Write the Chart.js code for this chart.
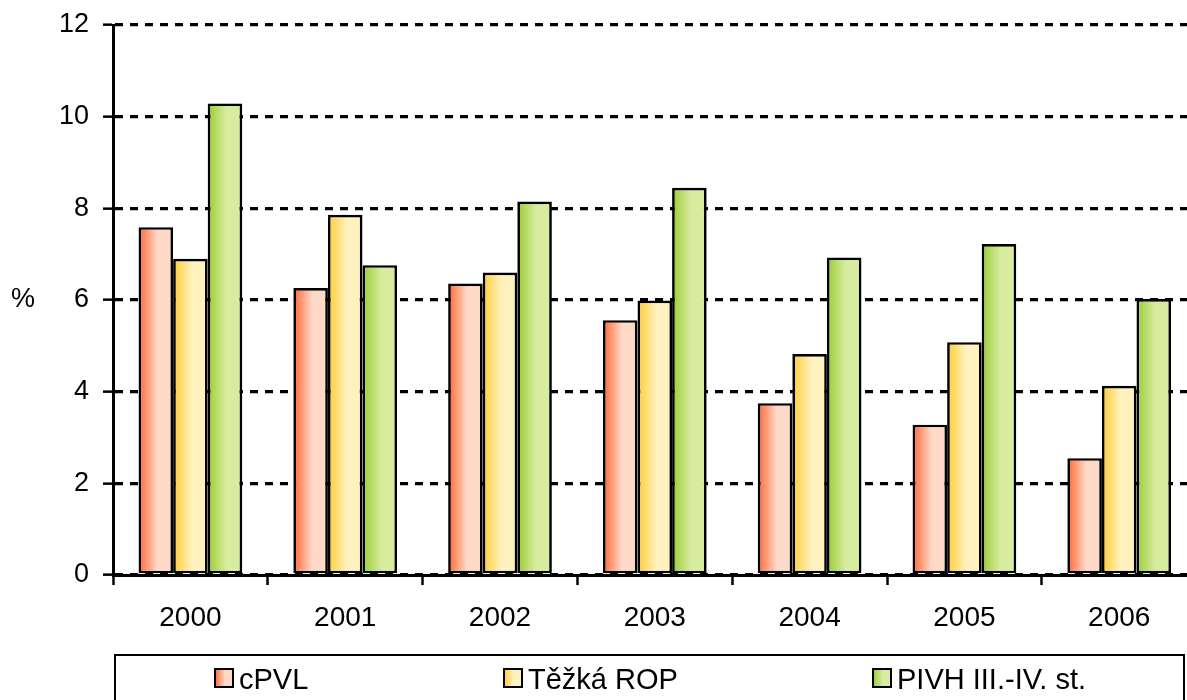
<!DOCTYPE html>
<html>
<head>
<meta charset="utf-8">
<script src="https://cdn.jsdelivr.net/npm/chart.js@4"></script>
<style>
  html, body { margin: 0; padding: 0; background: #fff; overflow: hidden; }
  #wrap { width: 1187px; height: 700px; overflow: hidden; }
</style>
</head>
<body>
<div id="wrap"><canvas id="chart" width="1200" height="700"></canvas></div>
<script>
// data
const years = ['2000', '2001', '2002', '2003', '2004', '2005', '2006'];
const seriesNames = ['cPVL', 'Těžká ROP', 'PIVH III.-IV. st.'];
const cpvl = [7.59, 6.26, 6.36, 5.56, 3.75, 3.28, 2.55];
const tezkaRop = [6.90, 7.86, 6.60, 5.99, 4.82, 5.08, 4.13];
const pivh = [10.29, 6.76, 8.15, 8.45, 6.93, 7.22, 6.02];
const yTicks = [0, 2, 4, 6, 8, 10, 12];

const FONT = "'Liberation Sans', Arial, sans-serif";
const CAT_PCT = 0.67;

// left (dark) and right (light) colours of each bar gradient
const shades = [
    ['#ff6633', '#ffd9c8'],
    ['#ffcc33', '#fff2bf'],
    ['#99cc33', '#d8eca0']
];

const makeGradient = (ctx, left, width, pair) => {
    const g = ctx.createLinearGradient(left, 0, left + width, 0);
    g.addColorStop(0, pair[0]);
    g.addColorStop(0.55, pair[1]);
    g.addColorStop(1, pair[1]);
    return g;
}

// gradient for each bar, computed from the category scale
const barFill = (c) => {
    const pair = shades[c.datasetIndex];
    const chart = c.chart;
    const xs = chart.scales && chart.scales.x;
    if (c.type !== 'data' || !xs || !chart.chartArea) return pair[0];
    const catW = xs.width / years.length;
    const groupW = catW * CAT_PCT;
    const barW = groupW / seriesNames.length;
    const left = xs.getPixelForValue(c.dataIndex) - groupW / 2 + c.datasetIndex * barW;
    return makeGradient(chart.ctx, left, barW, pair);
}

// "%" label and boxed legend under the chart
const extras = {
    id: 'extras',
    afterDraw(chart) {
        const ctx = chart.ctx;
        const area = chart.chartArea;
        ctx.save();
        ctx.fillStyle = '#000';
        ctx.font = '27px ' + FONT;
        ctx.textAlign = 'center';
        ctx.textBaseline = 'middle';
        ctx.fillText('%', 23, (area.top + area.bottom) / 2);

        ctx.strokeStyle = '#000';
        ctx.lineWidth = 2;
        ctx.strokeRect(115, 655, 1069, 70);

        const boxX = [215, 504, 873];
        ctx.font = '29px ' + FONT;
        ctx.textAlign = 'left';
        ctx.textBaseline = 'alphabetic';
        seriesNames.forEach((name, i) => {
            const x = boxX[i];
            ctx.fillStyle = makeGradient(ctx, x, 18, shades[i]);
            ctx.fillRect(x, 669, 18, 18);
            ctx.lineWidth = 2;
            ctx.strokeRect(x, 669, 18, 18);
            ctx.fillStyle = '#000';
            ctx.fillText(name, x + 24, 689);
        });
        ctx.restore();
    }
};

Chart.defaults.font.family = FONT;
Chart.defaults.color = '#000';

const datasets = [cpvl, tezkaRop, pivh].map((values, i) => ({
    label: seriesNames[i],
    data: values,
    backgroundColor: barFill,
    borderColor: '#000',
    borderWidth: 2.7,
    borderSkipped: false,
    categoryPercentage: CAT_PCT,
    barPercentage: 1.0
}));

new Chart(document.getElementById('chart'), {
    type: 'bar',
    data: { labels: years, datasets: datasets },
    plugins: [extras],
    options: {
        responsive: false,
        animation: false,
        devicePixelRatio: 1,
        layout: { padding: { left: 0, top: 25, right: 3.4, bottom: 65 } },
        plugins: {
            legend: { display: false },
            tooltip: { enabled: false }
        },
        scales: {
            x: {
                afterFit: (scale) => { scale.height = 60; },
                grid: {
                    offset: true,
                    drawOnChartArea: false,
                    drawTicks: true,
                    tickLength: 10,
                    tickColor: '#000',
                    tickWidth: 2.5
                },
                border: { display: true, color: '#000', width: 3 },
                ticks: { font: { size: 28 }, color: '#000', padding: 16, maxRotation: 0 }
            },
            y: {
                min: 0,
                max: 12,
                afterFit: (scale) => {
                    scale.width = 113;
                    scale.paddingTop = 0;
                    scale.paddingBottom = 0;
                },
                afterBuildTicks: (scale) => { scale.ticks = yTicks.map(v => ({ value: v })); },
                grid: {
                    color: '#000',
                    lineWidth: 3.3,
                    drawTicks: true,
                    tickLength: 10,
                    tickColor: '#000',
                    tickWidth: 2.5,
                    tickBorderDash: []
                },
                border: { display: true, color: '#000', width: 3, dash: [8, 7] },
                ticks: { font: { size: 27 }, color: '#000', padding: 14 }
            }
        }
    }
});
</script>
</body>
</html>
